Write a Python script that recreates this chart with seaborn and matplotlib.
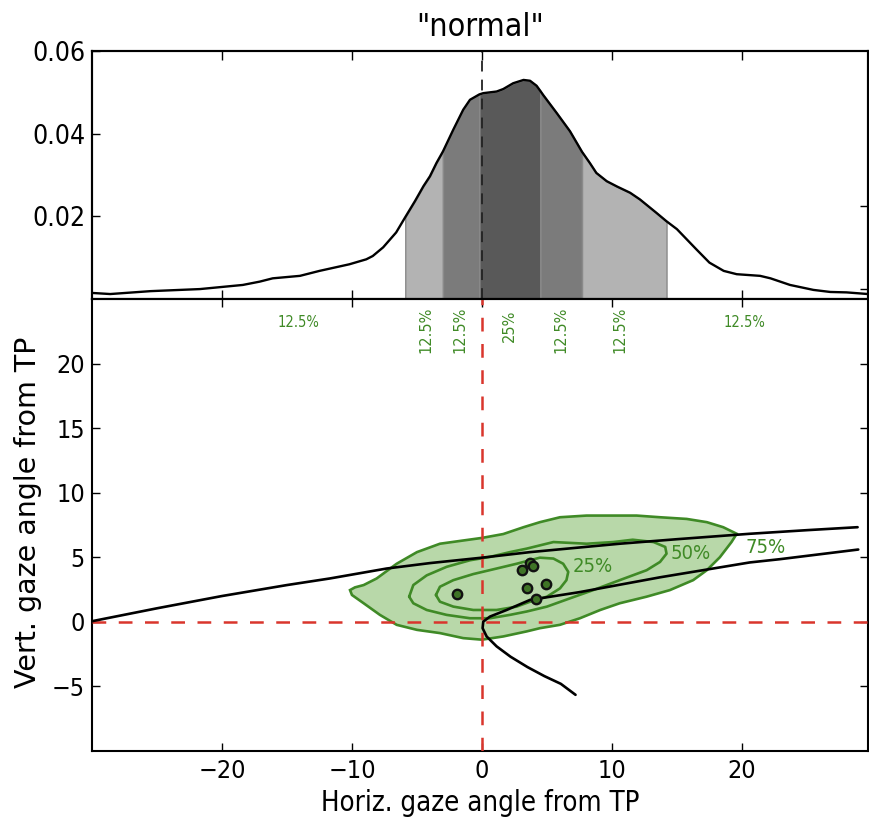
import numpy as np
import pandas as pd
import matplotlib
matplotlib.use("Agg")
import matplotlib.pyplot as plt
import seaborn as sns

# ---------------- data ----------------
dens_x = [-29.9, -28.6, -25.5, -21.7, -18.4, -17.1, -16.1, -14.0, -12.5, -10.2,
          -8.9, -8.4, -7.6, -6.6, -5.9, -5.15, -4.5, -4.0, -3.5, -3.0,
          -2.2, -1.44, -0.92, -0.2, 0.1, 1.13, 1.64, 2.4, 3.2, 3.7,
          4.2, 4.5, 4.7, 5.75, 6.77, 7.7, 8.3, 8.8, 9.6, 10.4,
          11.4, 12.15, 13.4, 14.2, 15.0, 16.5, 17.5, 18.6, 19.6, 21.4,
          22.2, 23.7, 25.5, 26.8, 28.05, 29.7]
dens_y = [0.00145, 0.0012, 0.0019, 0.0024, 0.0034, 0.0042, 0.0050, 0.0056, 0.0068, 0.0084,
          0.0096, 0.0104, 0.0125, 0.0161, 0.0198, 0.0237, 0.0273, 0.0297, 0.0329, 0.0357,
          0.0410, 0.0458, 0.0482, 0.0495, 0.0498, 0.0502, 0.0508, 0.0522, 0.0530, 0.0528,
          0.0516, 0.0503, 0.0494, 0.0450, 0.0406, 0.0356, 0.0329, 0.0305, 0.0285, 0.0272,
          0.0257, 0.0241, 0.0209, 0.0188, 0.0169, 0.0120, 0.0088, 0.0068, 0.0060, 0.0056,
          0.0050, 0.0034, 0.0022, 0.0017, 0.0016, 0.0012]
shade_edges = [-5.9, -3.0, -0.2, 4.5, 7.7, 14.2]
shade_colors = ["#b3b3b3", "#7b7b7b", "#595959", "#7b7b7b", "#b3b3b3"]

quant_labels = ["12.5%", "12.5%", "12.5%", "25%", "12.5%", "12.5%", "12.5%"]
quant_x = [-14.1, -4.3, -1.7, 2.1, 6.1, 10.6, 20.2]
quant_y = [23.2, 22.6, 22.6, 22.9, 22.6, 22.6, 23.2]
quant_rot = [0, 90, 90, 90, 90, 90, 0]

c75_x = [-10.15, -9.77, -9.1, -8.1, -6.56, -5.0, -3.23, -1.44, 0.0, 1.64, 3.2, 4.46,
         6.0, 8.05, 10.1, 11.9, 13.7, 15.75, 17.3, 18.56, 19.6, 19.2, 18.3, 17.3,
         16.25, 14.46, 12.67, 10.6, 9.1, 7.54, 6.0, 4.46, 3.44, 1.64, 0.0, -1.44,
         -3.23, -5.0, -6.56, -7.85, -9.1, -10.0]
c75_y = [2.46, 2.67, 2.85, 3.36, 4.5, 5.4, 6.05, 6.3, 6.5, 6.8, 7.33, 7.72,
         8.1, 8.23, 8.23, 8.23, 8.1, 7.97, 7.72, 7.33, 6.82, 6.18, 5.0, 4.0,
         3.23, 2.46, 1.95, 1.44, 0.92, 0.28, -0.23, -0.49, -0.74, -1.13, -1.38, -1.26,
         -0.87, -0.62, -0.23, 0.54, 1.44, 2.08]
c50_x = [-5.6, -5.28, -4.25, -2.72, -0.92, 0.62, 2.15, 3.44, 5.5, 8.05, 10.1, 11.6,
         13.2, 14.1, 14.2, 13.7, 12.67, 10.6, 8.56, 6.77, 5.0, 3.44, 2.15, 0.62,
         -0.92, -2.72, -4.25, -5.28]
c50_y = [1.95, 2.85, 3.6, 4.26, 4.77, 5.03, 5.4, 5.67, 6.18, 6.05, 6.18, 6.36,
         6.18, 5.8, 5.28, 4.64, 4.0, 3.23, 2.46, 1.82, 1.18, 0.8, 0.54, 0.28,
         0.28, 0.54, 0.92, 1.44]
c25_x = [-3.54, -3.23, -2.2, -0.67, 1.13, 2.67, 4.46, 5.5, 6.25, 6.64, 6.5, 6.0,
         5.0, 3.7, 2.67, 1.13, -0.67, -2.2, -3.23]
c25_y = [2.08, 2.72, 3.23, 3.7, 4.13, 4.5, 4.97, 4.9, 4.5, 3.87, 3.23, 2.59,
         1.95, 1.56, 1.18, 0.92, 0.92, 1.18, 1.56]
contour_labels = ["25%", "50%", "75%"]
contour_label_x = [8.5, 16.05, 21.8]
contour_label_y = [4.25, 5.33, 5.77]

curveA_x = [-30.0, -25.0, -20.0, -15.0, -11.7, -7.33, -4.0, 0.0, 3.7, 10.6, 15.0, 20.6, 25.0, 28.9]
curveA_y = [0.05, 1.05, 2.0, 2.85, 3.36, 4.13, 4.55, 4.97, 5.4, 6.05, 6.4, 6.82, 7.1, 7.33]
curveB_x = [28.95, 22.9, 20.6, 13.7, 7.5, 3.7, 1.9, 0.62, 0.1, 0.05, 0.36, 1.13,
            2.2, 3.5, 4.8, 6.07, 7.2]
curveB_y = [5.6, 4.85, 4.6, 3.45, 2.3, 1.7, 0.92, 0.41, 0.02, -0.49, -1.13, -1.9,
            -2.7, -3.5, -4.2, -4.8, -5.65]

pts_x = [-1.95, 3.05, 3.7, 3.9, 3.5, 4.92, 4.15]
pts_y = [2.15, 4.05, 4.56, 4.3, 2.59, 2.97, 1.77]

# ---------------- style ----------------
sns.set_style("ticks")
plt.rcParams['font.family'] = ['DejaVu Sans']
plt.rcParams['font.stretch'] = 'condensed'
plt.rcParams['axes.unicode_minus'] = True
for k in ("text.color", "axes.labelcolor", "xtick.color", "ytick.color", "axes.edgecolor"):
    plt.rcParams[k] = "black"

GREEN_EDGE = "#3f8a26"
GREEN_FILL = "#b8d8a9"
GREEN_TEXT = "#3f8a26"
RED = "#d9352c"

W, H = 869, 826
fig = plt.figure(figsize=(W / 100, H / 100), dpi=100)


def rect(l, t, r, b):
    return [l / W, 1 - b / H, (r - l) / W, (b - t) / H]


ax_top = fig.add_axes(rect(92, 51, 868, 299))
ax_bot = fig.add_axes(rect(92, 299, 868, 751))

# ---------------- top panel: density ----------------
dx = np.array(dens_x)
dy = np.array(dens_y)
for lo, hi, col in zip(shade_edges[:-1], shade_edges[1:], shade_colors):
    m = (dx >= lo - 1e-9) & (dx <= hi + 1e-9)
    ax_top.fill_between(dx, 0, dy, where=m, facecolor=col, edgecolor="#8a8a8a",
                        linewidth=1.0, zorder=1)
sns.lineplot(x=dens_x, y=dens_y, ax=ax_top, color="black", linewidth=1.7,
             sort=False, estimator=None, zorder=3)
ax_top.axvline(0, color="#222222", linewidth=1.3, linestyle=(0, (6, 4.5)), zorder=4)

ax_top.set_xlim(-30, 29.7)
ax_top.set_ylim(0, 0.06)
ax_top.set_xticks([-20, -10, 0, 10, 20])
ax_top.set_yticks([0.02, 0.04, 0.06])
ax_top.set_yticklabels(["0.02", "0.04", "0.06"])
ax_top.tick_params(axis="x", direction="in", top=True, bottom=True,
                   labelbottom=False, length=6.5, width=1.0)
ax_top.tick_params(axis="y", direction="in", left=True, right=False,
                   labelsize=19, length=6, width=1.0, pad=5)
ax_top.set_title('"normal"', fontsize=23, pad=11)

ax_r = ax_top.twinx()
ax_r.set_ylim(-0.0024, 0.0576)
ax_r.set_yticks([0.0, 0.02])
ax_r.tick_params(axis="y", direction="in", right=True, labelright=False,
                 length=6, width=1.0)
ax_r.grid(False)

# ---------------- bottom panel ----------------
ax_bot.fill(c75_x, c75_y, facecolor=GREEN_FILL, edgecolor=GREEN_EDGE,
            linewidth=1.9, zorder=1)
for cx, cy in [(c50_x, c50_y), (c25_x, c25_y)]:
    ax_bot.plot(list(cx) + [cx[0]], list(cy) + [cy[0]], color=GREEN_EDGE,
                linewidth=1.9, zorder=2)
for t, x, y in zip(contour_labels, contour_label_x, contour_label_y):
    ax_bot.text(x, y, t, color=GREEN_TEXT, fontsize=14.5, ha="center", va="center",
                zorder=5)

ax_bot.axhline(0, color=RED, linewidth=1.8, linestyle=(0, (5.5, 5)), zorder=3)
ax_bot.axvline(0, color=RED, linewidth=1.8, linestyle=(0, (5.5, 5)), zorder=3)

sns.lineplot(x=curveA_x, y=curveA_y, ax=ax_bot, color="black", linewidth=1.9,
             sort=False, estimator=None, zorder=4)
sns.lineplot(x=curveB_x, y=curveB_y, ax=ax_bot, color="black", linewidth=1.9,
             sort=False, estimator=None, zorder=4)
sns.scatterplot(x=pts_x, y=pts_y, ax=ax_bot, s=46, color="#3f7426",
                edgecolor="#111111", linewidth=1.7, zorder=6)

for t, x, y, r in zip(quant_labels, quant_x, quant_y, quant_rot):
    ax_bot.text(x, y, t, color=GREEN_TEXT, fontsize=10.5, rotation=r,
                ha="center", va="center",
                fontstretch=("normal" if r else "condensed"))

ax_bot.set_xlim(-30, 29.7)
ax_bot.set_ylim(-10, 25)
ax_bot.set_xticks([-20, -10, 0, 10, 20])
ax_bot.set_yticks([-5, 0, 5, 10, 15, 20])
ax_bot.tick_params(direction="in", top=True, right=True, labelsize=18,
                   length=6, width=1.0)
ax_bot.tick_params(axis="x", pad=6)
ax_bot.tick_params(axis="y", pad=5)
ax_bot.set_xlabel("Horiz. gaze angle from TP", fontsize=19.8, labelpad=4)
ax_bot.set_ylabel("Vert. gaze angle from TP", fontsize=20.5, fontstretch="normal")
ax_bot.yaxis.set_label_coords((42 - 92) / 776, (751 - 512) / 452)

for ax in (ax_top, ax_bot, ax_r):
    for sp in ax.spines.values():
        sp.set_linewidth(1.5)
        sp.set_color("black")

fig.savefig("out.png", dpi=100, facecolor="white")
